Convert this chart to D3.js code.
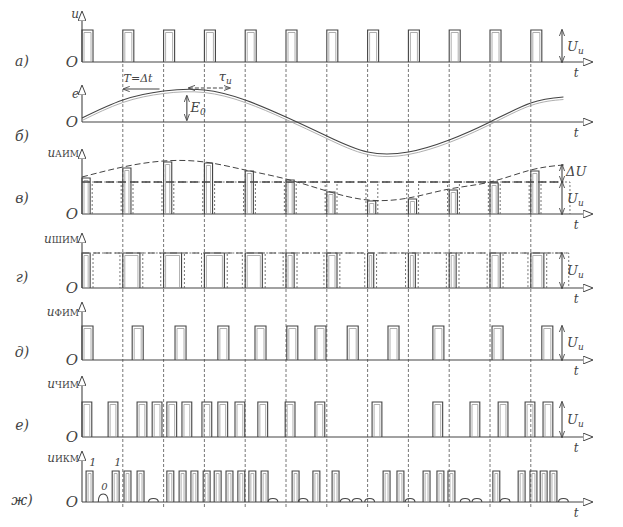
<!DOCTYPE html>
<html><head><meta charset="utf-8">
<script src="https://cdn.jsdelivr.net/npm/d3@7"></script>
<style>
body{margin:0;background:#fff}
.p{fill:none;stroke:#444;stroke-width:1.1}
.g{fill:none;stroke:#9a9a9a;stroke-width:0.8}
.d{fill:none;stroke:#666;stroke-width:0.9;stroke-dasharray:2,2}
.ax{fill:none;stroke:#444;stroke-width:1.1}
.grid{stroke:#666;stroke-width:0.9;stroke-dasharray:3,2}
text{font-family:"DejaVu Serif","Liberation Serif",serif;font-style:italic;fill:#444}
</style>
</head><body>
<svg id="c" width="623" height="527"></svg>
<script>
// ---- data (time in clock periods T) ----
const clockTicks = [1,2,3,4,5,6,7,8,9,10,11];
const pulseStarts = [0,1,2,3,4,5,6,7,8,9,10,11];
const pulseWidth = 0.27;
const eTimes  = [0,1,2,3,4,5,6,7,8,9,10,11,11.8];
const eValues = [4,22,31,32,22,5,-14,-30,-30,-18,0,19,25];
const pamValues = [36,46,52,51,43,34,22,13,15,24,31,43];
const pamEnvTimes  = [0,1,2,3,4,5,6,7,8,9,10,11,11.8];
const pamEnvValues = [37,47,53,52,44,35,23,14,16,25,32,44,49];
const pamCarrier = 32;
const pamWidth = 0.2;
const pwmWidths = [0.2,0.42,0.44,0.49,0.42,0.2,0.25,0.15,0.17,0.17,0.25,0.32];
const ppmStarts = [0,1.23,2.28,3.33,4.24,5.02,5.71,6.5,7.5,8.6,10.05,11.27];
const ppmWidth = 0.27;
const pfmStarts = [0,0.64,1.35,1.72,2.08,2.45,2.94,3.33,3.75,4.31,4.98,5.71,7.11,8.6,9.51,10.2,10.86,11.3];
const pfmWidth = 0.24;
const pcmOnes = [0.1,0.74,1.03,1.35,2.08,2.38,2.67,2.97,3.24,3.53,3.82,4.09,4.39,5.15,5.66,6.13,7.38,7.72,8.36,8.7,8.97,10.07,10.69,10.98,11.23,11.47];
const pcmWidth = 0.17;
const pcmZeros = [0.52,1.75,4.68,5.42,6.45,6.74,7.05,8.04,9.39,9.68,10.37,11.8];
const panelLetters = ["а)","б)","в)","г)","д)","е)","ж)"];
const panelNames = ["u","e","u","u","u","u","u"];
const panelSubs  = ["","","АИМ","ШИМ","ФИМ","ЧИМ","ИКМ"];

// ---- layout ----
const svg = d3.select("#c");
const x = d3.scaleLinear().domain([0,12.5]).range([82,592]);
const P = [
  {base:62, top:30, axTop:12, ly:18, lo:4},
  {base:122, top:92, axTop:86, ly:98, lo:19},
  {base:214, top:182, axTop:150, ly:157, lo:-11},
  {base:288, top:253, axTop:234, ly:243, lo:-6},
  {base:360, top:326, axTop:303, ly:316, lo:-3},
  {base:437, top:402, axTop:377, ly:388, lo:-7},
  {base:502, top:471, axTop:452, ly:462, lo:3}
];

const defs = svg.append("defs");
defs.append("marker").attr("id","ar").attr("viewBox","0 0 10 8").attr("refX",9).attr("refY",4)
  .attr("markerWidth",10).attr("markerHeight",8).attr("markerUnits","userSpaceOnUse").attr("orient","auto")
  .append("path").attr("d","M0,0L10,4L0,8Z").attr("fill","#fff").attr("stroke","#444").attr("stroke-width",1);
defs.append("marker").attr("id","sa").attr("viewBox","0 0 8 6").attr("refX",7).attr("refY",3)
  .attr("markerWidth",7).attr("markerHeight",6).attr("markerUnits","userSpaceOnUse").attr("orient","auto-start-reverse")
  .append("path").attr("d","M0,0L8,3L0,6").attr("fill","none").attr("stroke","#444").attr("stroke-width",1);

// grid
svg.append("g").selectAll("line").data(clockTicks).join("line").attr("class","grid")
  .attr("x1",d=>x(d)).attr("x2",d=>x(d)).attr("y1",64).attr("y2",508);

// axes & labels
P.forEach((p,i)=>{
  svg.append("line").attr("class","ax").attr("x1",x(0)).attr("x2",x(12.5)).attr("y1",p.base).attr("y2",p.base).attr("marker-end","url(#ar)");
  svg.append("line").attr("class","ax").attr("x1",x(0)).attr("x2",x(0)).attr("y1",p.base).attr("y2",p.axTop).attr("marker-end","url(#ar)");
  svg.append("text").attr("x",72).attr("y",p.base+5).attr("text-anchor","middle").attr("font-size",15).text("O");
  svg.append("text").attr("x",22).attr("y",p.base+p.lo).attr("text-anchor","middle").attr("font-size",14).text(panelLetters[i]);
  svg.append("text").attr("x",x(12.05)).attr("y",p.base+15).attr("font-size",12).text("t");
  const t = svg.append("text").attr("x",79).attr("y",p.ly).attr("text-anchor","end").attr("font-size",12);
  t.append("tspan").text(panelNames[i]);
  if(panelSubs[i]) t.append("tspan").attr("font-size",9).attr("dy",0).attr("font-style","normal").text(panelSubs[i]);
});

function pulse(t0,t1,yb,yt,cls){
  const a=x(t0), b=x(t1);
  svg.append("path").attr("class",cls||"p").attr("d",`M${a},${yb}V${yt}H${b}V${yb}`);
  if(!cls && b-a>5) svg.append("path").attr("class","g").attr("d",`M${a+2},${yb}V${yt+2.5}H${b-2}V${yb}`);
}
function vArrow(xx,y1,y2){
  svg.append("line").attr("class","ax").attr("x1",xx).attr("x2",xx).attr("y1",y1).attr("y2",y2)
    .attr("marker-start","url(#sa)").attr("marker-end","url(#sa)");
}
function uLabel(xx,y,main,sub){
  const t=svg.append("text").attr("x",xx).attr("y",y).attr("font-size",13);
  t.append("tspan").text(main);
  t.append("tspan").attr("font-size",9).attr("dy",3).text(sub);
}

// а) clock pulses
const yA = d3.scaleLinear().domain([0,1]).range([P[0].base,P[0].top]);
pulseStarts.forEach(s=>pulse(s,s+pulseWidth,yA(0),yA(1)));
vArrow(562,yA(1),yA(0)); uLabel(567,51,"U","и");

// б) message signal
const yE = d3.scaleLinear().domain([-30,30]).range([152,92]);
const eLine = d3.line().x((d,i)=>x(eTimes[i])).y(d=>yE(d)).curve(d3.curveNatural);
svg.append("path").attr("class","p").attr("d",eLine(eValues));
svg.append("path").attr("class","g").attr("transform","translate(0,2.5)").attr("d",eLine(eValues));
svg.append("text").attr("x",x(1.02)).attr("y",82).attr("font-size",11).text("T=Δt");
svg.append("line").attr("class","ax").attr("x1",x(1.9)).attr("x2",x(1.02)).attr("y1",89).attr("y2",89).attr("marker-end","url(#sa)");
svg.append("line").attr("class","ax").attr("x1",x(2.62)).attr("x2",x(3.62)).attr("y1",88).attr("y2",88)
  .attr("marker-start","url(#sa)").attr("marker-end","url(#sa)").attr("stroke-dasharray","4,2");
uLabel(x(3.35),81,"τ","и");
vArrow(x(2.57),96,120);
uLabel(x(2.66),112,"E","0");

// в) PAM
const yP = d3.scaleLinear().domain([0,60]).range([P[2].base,P[2].base-60]);
pulseStarts.forEach((s,i)=>{
  pulse(s,s+pamWidth,yP(0),yP(pamValues[i]));
  pulse(s+pamWidth+0.05,s+0.96,yP(0),yP(pamCarrier),"d");
});
svg.append("line").attr("x1",x(0)).attr("x2",x(11.8)).attr("y1",yP(pamCarrier)).attr("y2",yP(pamCarrier))
  .attr("stroke","#444").attr("stroke-width",1.3).attr("stroke-dasharray","8,4");
const envLine = d3.line().x((d,i)=>x(pamEnvTimes[i])).y(d=>yP(d)).curve(d3.curveNatural);
svg.append("path").attr("d",envLine(pamEnvValues)).attr("fill","none").attr("stroke","#444").attr("stroke-width",1).attr("stroke-dasharray","6,3");
svg.append("line").attr("class","ax").attr("x1",x(11.8)).attr("x2",562).attr("y1",yP(pamEnvValues[12])).attr("y2",yP(pamEnvValues[12]));
vArrow(562,yP(pamEnvValues[12]),yP(pamCarrier));
vArrow(562,yP(pamCarrier),yP(0));
uLabel(566,176,"ΔU","");
uLabel(567,203,"U","и");

// г) PWM
const yW = d3.scaleLinear().domain([0,1]).range([P[3].base,P[3].top]);
pulseStarts.forEach((s,i)=>{
  pulse(s,s+pwmWidths[i],yW(0),yW(1));
  pulse(s+pwmWidths[i]+0.07,s+0.93,yW(0),yW(1),"d");
});
svg.append("line").attr("x1",x(0)).attr("x2",x(11.9)).attr("y1",yW(1)).attr("y2",yW(1))
  .attr("stroke","#555").attr("stroke-width",1).attr("stroke-dasharray","7,4");
vArrow(562,yW(1),yW(0)); uLabel(567,275,"U","и");

// д) PPM
const yF = d3.scaleLinear().domain([0,1]).range([P[4].base,P[4].top]);
ppmStarts.forEach(s=>pulse(s,s+ppmWidth,yF(0),yF(1)));
vArrow(562,yF(1),yF(0)); uLabel(567,347,"U","и");

// е) PFM
const yC = d3.scaleLinear().domain([0,1]).range([P[5].base,P[5].top]);
pfmStarts.forEach(s=>pulse(s,s+pfmWidth,yC(0),yC(1)));
vArrow(562,yC(1),yC(0)); uLabel(567,424,"U","и");

// ж) PCM
const yK = d3.scaleLinear().domain([0,1]).range([P[6].base,P[6].top]);
pcmOnes.forEach(s=>pulse(s,s+pcmWidth,yK(0),yK(1)));
pcmZeros.forEach((s,i)=>{
  const a=x(s-0.12), b=x(s+0.12), h=(i===0?8:3.5);
  svg.append("path").attr("class","p").attr("d",`M${a},${yK(0)}Q${a},${yK(0)-h} ${(a+b)/2},${yK(0)-h}Q${b},${yK(0)-h} ${b},${yK(0)}`);
});
svg.append("text").attr("x",x(0.18)).attr("y",466).attr("font-size",11).text("1");
svg.append("text").attr("x",x(0.79)).attr("y",466).attr("font-size",11).text("1");
svg.append("text").attr("x",x(0.47)).attr("y",490).attr("font-size",10).text("0");
</script>
</body></html>
